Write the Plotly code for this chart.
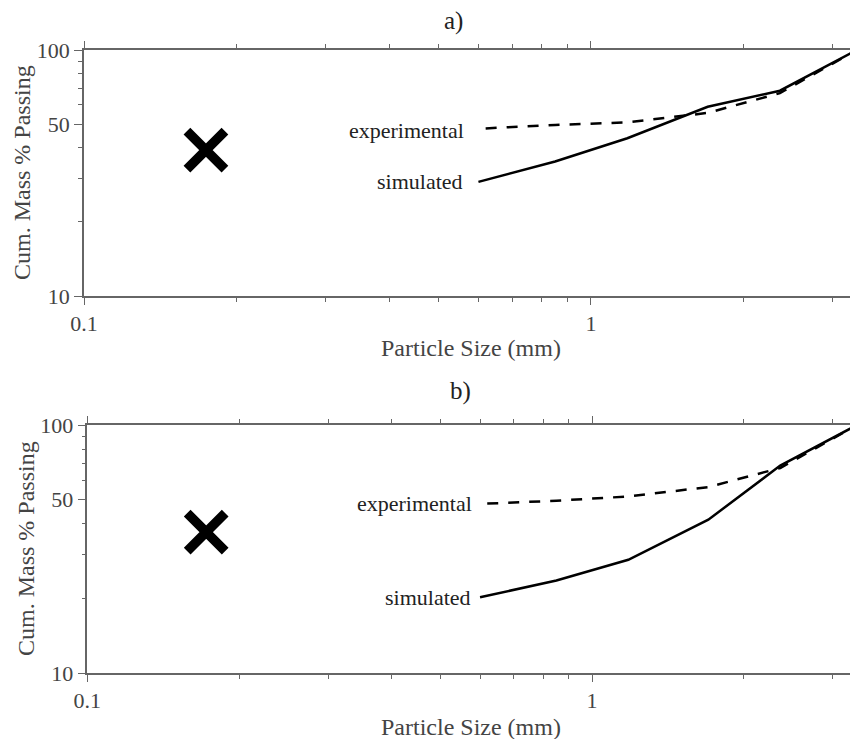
import math
import plotly.graph_objects as go

# ---- data ----
sieve_sizes = [0.6, 0.85, 1.18, 1.7, 2.36, 3.35]          # mm (simulated)
exp_sizes = [0.62, 0.85, 1.18, 1.7, 2.36, 3.35]           # mm (experimental)
exp_a = [48.0, 49.6, 50.8, 55.5, 66.8, 100.0]
sim_a = [29.1, 35.2, 43.8, 58.8, 68.3, 100.0]
exp_b = [48.2, 49.5, 51.5, 56.2, 67.1, 100.0]
sim_b = [20.2, 23.6, 28.6, 41.5, 68.6, 100.0]
cross_x = [0.174, 0.172]
cross_y = [39.2, 37.0]
panel_titles = ["a)", "b)"]
x_major = [0.1, 1]
x_major_text = ["0.1", "1"]
x_minor = [0.2, 0.3, 0.4, 0.5, 0.6, 0.7, 0.8, 0.9, 2, 3]
y_major = [10, 50, 100]
y_major_text = ["10", "50", "100"]
y_minor = [20, 30, 40, 60, 70, 80, 90]

FONT = "Liberation Serif"
AX = "#666666"
TXT = "#444444"

OFF = 8  # page body margin
W, H = 858 - OFF, 739 - OFF
ML, MR, MT, MB = 84 - OFF, 1, 50 - OFF, 66
PH = H - MT - MB
REF_PW = 773.0


def py(p):
    return (H - MB - (p - OFF)) / PH


def px(p):
    return (p - 84) / REF_PW


fig = go.Figure()

panels = [
    (exp_a, sim_a, "x", "y", -20, -13),
    (exp_b, sim_b, "x2", "y2", -13, -7),
]
for i, (ex, si, xa, ya, shift_e, shift_s) in enumerate(panels):
    fig.add_trace(go.Scatter(x=exp_sizes, y=ex, mode="lines", xaxis=xa, yaxis=ya,
                             line=dict(color="black", width=2.5, dash="11px,10px"),
                             showlegend=False, hoverinfo="skip"))
    fig.add_trace(go.Scatter(x=sieve_sizes, y=si, mode="lines", xaxis=xa, yaxis=ya,
                             line=dict(color="black", width=2.5),
                             showlegend=False, hoverinfo="skip"))
    fig.add_trace(go.Scatter(x=[cross_x[i]], y=[cross_y[i]], mode="markers", xaxis=xa, yaxis=ya,
                             marker=dict(symbol="x-thin", size=38, color="black",
                                         line=dict(color="black", width=9.5)),
                             showlegend=False, hoverinfo="skip"))
    fig.add_annotation(x=math.log10(exp_sizes[0]), y=math.log10(ex[0]), xref=xa, yref=ya,
                       xanchor="right", yanchor="middle",
                       xshift=shift_e, yshift=-2 if i == 0 else 0,
                       text="experimental", showarrow=False,
                       font=dict(family=FONT, size=22, color="#222222"))
    fig.add_annotation(x=math.log10(sieve_sizes[0]), y=math.log10(si[0]), xref=xa, yref=ya,
                       xanchor="right", yanchor="middle",
                       xshift=shift_s,
                       text="simulated", showarrow=False,
                       font=dict(family=FONT, size=22, color="#222222"))

axis_common = dict(type="log", showgrid=False, zeroline=False, showline=True, automargin=False,
                   linecolor=AX, linewidth=1.5, mirror="ticks", ticks="outside",
                   tickcolor=AX, tickwidth=1.2,
                   tickfont=dict(family=FONT, size=22, color=TXT))

xcommon = dict(axis_common, range=[-1, 0.525], tickvals=x_major, ticktext=x_major_text, ticklen=7,
               minor=dict(tickvals=x_minor, ticklen=4, ticks="outside", tickcolor=AX, tickwidth=1.2))
ycommon = dict(axis_common, range=[1, 2], tickvals=y_major, ticktext=y_major_text, ticklen=8,
               minor=dict(tickvals=y_minor, ticklen=4, ticks="outside", tickcolor=AX, tickwidth=1.2))

fig.update_layout(
    width=W, height=H, autosize=False,
    margin=dict(l=ML, r=MR, t=MT, b=MB, autoexpand=False),
    paper_bgcolor="white", plot_bgcolor="white",
    xaxis=dict(xcommon, domain=[0, 1], anchor="y"),
    yaxis=dict(ycommon, domain=[py(296), py(50)], anchor="x"),
    xaxis2=dict(xcommon, domain=[px(87.3), 1], anchor="y2"),
    yaxis2=dict(ycommon, domain=[py(673), py(425)], anchor="x2"),
)

# panel titles
fig.add_annotation(x=px(453), y=py(21), xref="paper", yref="paper", text=panel_titles[0],
                   xanchor="center", yanchor="middle",
                   showarrow=False, font=dict(family=FONT, size=25, color="#222222"))
fig.add_annotation(x=px(460), y=py(391), xref="paper", yref="paper", text=panel_titles[1],
                   xanchor="center", yanchor="middle",
                   showarrow=False, font=dict(family=FONT, size=25, color="#222222"))
# axis titles
for cy, cx_y, ty in [(348, 22, 173), (727, 26, 549)]:
    fig.add_annotation(x=px(470.5), y=py(cy), xref="paper", yref="paper",
                       xanchor="center", yanchor="middle",
                       text="Particle Size (mm)", showarrow=False,
                       font=dict(family=FONT, size=24, color=TXT))
    fig.add_annotation(x=px(cx_y), y=py(ty), xref="paper", yref="paper",
                       xanchor="center", yanchor="middle",
                       text="Cum. Mass % Passing", textangle=-90, showarrow=False,
                       font=dict(family=FONT, size=24, color=TXT))

fig.write_html("out.html")
